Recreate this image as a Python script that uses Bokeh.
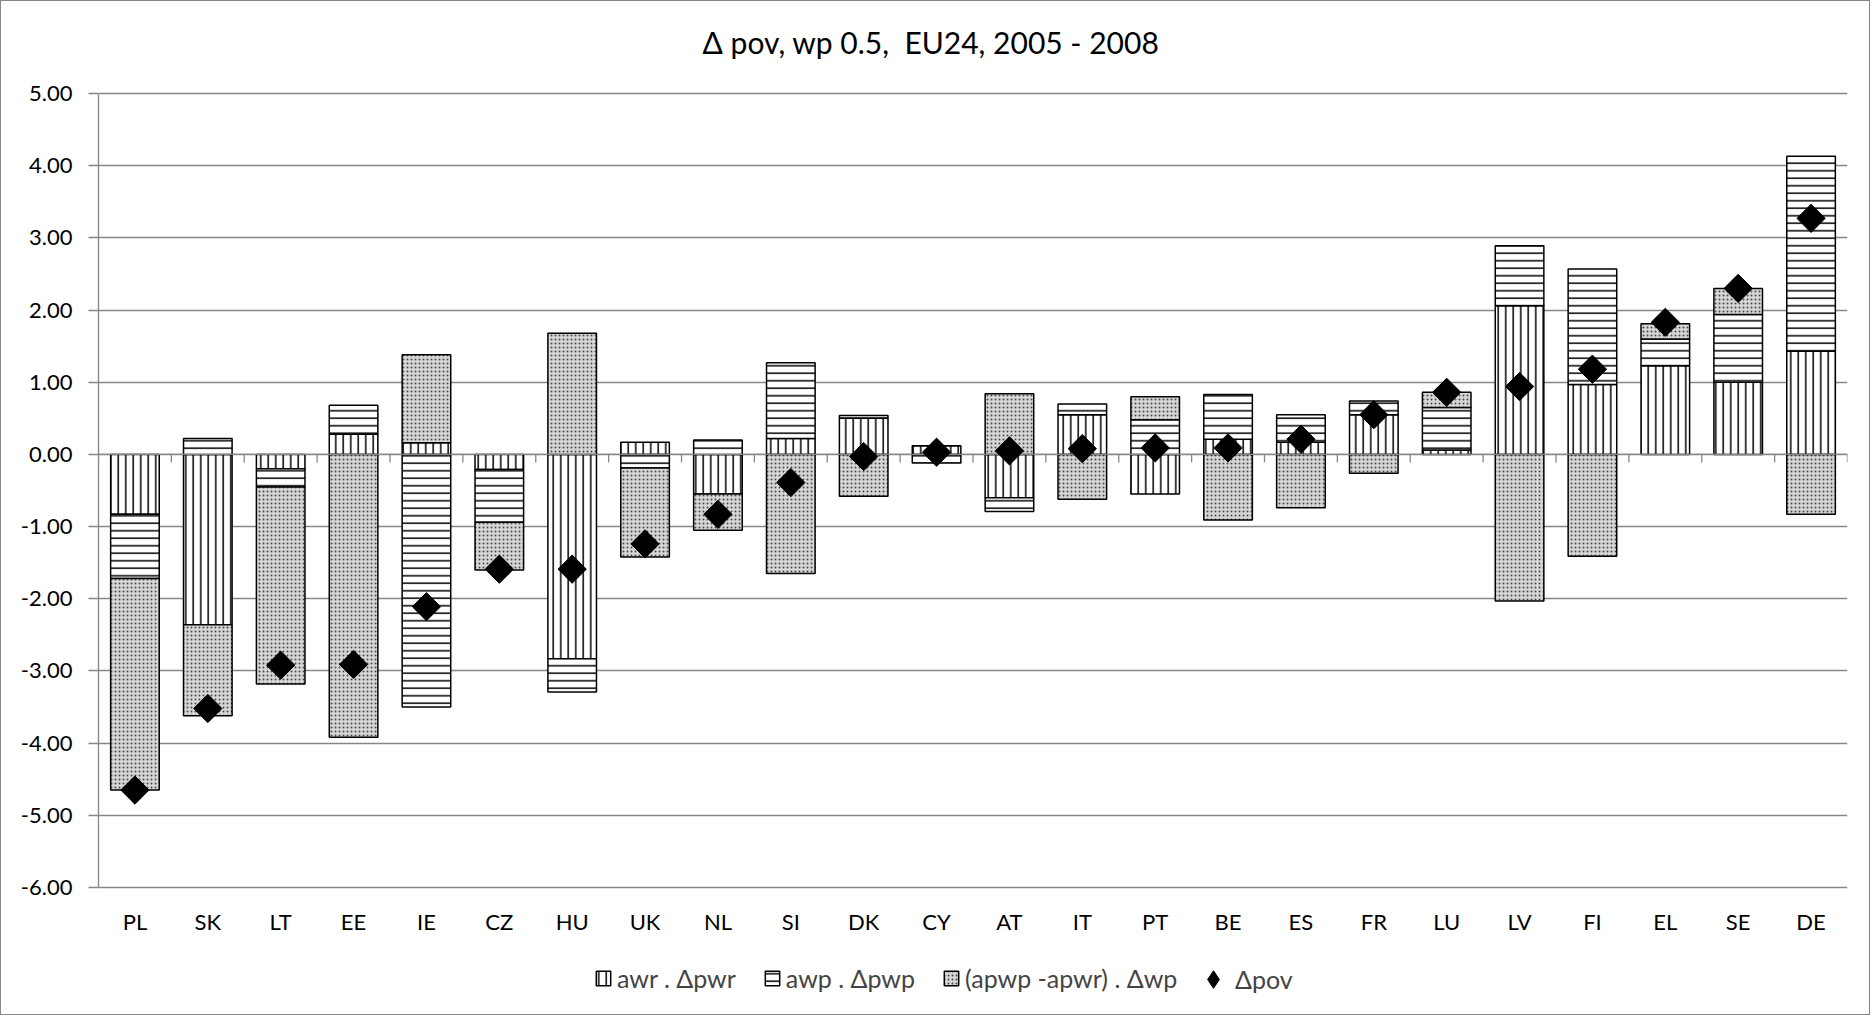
import math

from bokeh.core.properties import value
from bokeh.embed import file_html
from bokeh.models import ColumnDataSource, FixedTicker, Legend, LegendItem, NumeralTickFormatter
from bokeh.plotting import figure
from bokeh.resources import INLINE


COUNTRIES = ["PL", "SK", "LT", "EE", "IE", "CZ", "HU", "UK", "NL", "SI", "DK", "CY",
             "AT", "IT", "PT", "BE", "ES", "FR", "LU", "LV", "FI", "EL", "SE", "DE"]

# awr . Δpwr
AWR_DPWR = [-0.83, -2.36, -0.20, 0.28, 0.16, -0.21, -2.83, 0.17, -0.55, 0.22, 0.50, 0.12,
            -0.60, 0.55, -0.55, 0.21, 0.17, 0.55, 0.06, 2.06, 0.97, 1.23, 1.00, 1.43]
# awp . Δpwp
AWP_DPWP = [-0.89, 0.22, -0.25, 0.40, -3.50, -0.73, -0.46, -0.19, 0.20, 1.05, 0.04, -0.12,
            -0.19, 0.15, 0.48, 0.62, 0.38, 0.19, 0.59, 0.83, 1.60, 0.37, 0.94, 2.70]
# (apwp -apwr) . Δwp
APWP_APWR_DWP = [-2.93, -1.26, -2.73, -3.92, 1.22, -0.66, 1.68, -1.23, -0.50, -1.65, -0.58, 0.00,
                 0.84, -0.62, 0.32, -0.91, -0.74, -0.26, 0.21, -2.03, -1.41, 0.21, 0.36, -0.83]
# Δpov
DPOV = [-4.65, -3.52, -2.92, -2.91, -2.11, -1.59, -1.59, -1.24, -0.83, -0.39, -0.03, 0.03,
        0.05, 0.08, 0.09, 0.09, 0.21, 0.55, 0.86, 0.94, 1.18, 1.83, 2.30, 3.27]

SERIES_NAMES = ["awr . Δpwr", "awp . Δpwp", "(apwp -apwr) . Δwp", "Δpov"]
Y_TICKS = list(range(-6, 6))
TITLE = "Δ pov, wp 0.5,\u00a0 EU24, 2005 - 2008"

FONT = "Lato"
GREY = "#868686"

WIDTH, HEIGHT = 1870, 1015
# the value axis covers 794 px starting 92 px from the top; the frame fills
# the whole height so title, category labels and legend live inside it
AXIS_PX = 794
AXIS_TOP = 92
FRAME_H = 1001
PX_PER_UNIT = AXIS_PX / (Y_TICKS[-1] - Y_TICKS[0])
Y_HIGH = Y_TICKS[-1] + AXIS_TOP / PX_PER_UNIT
Y_LOW = Y_TICKS[-1] - (FRAME_H - AXIS_TOP) / PX_PER_UNIT


def stack(series_list):
    """Stack positive and negative values separately, like Excel does."""
    pos = [0.0] * len(COUNTRIES)
    neg = [0.0] * len(COUNTRIES)
    out = []
    for values in series_list:
        bottoms, tops = [], []
        for i, v in enumerate(values):
            if v >= 0:
                bottoms.append(pos[i])
                tops.append(pos[i] + v)
                pos[i] += v
            else:
                bottoms.append(neg[i])
                tops.append(neg[i] + v)
                neg[i] += v
        out.append((bottoms, tops))
    return out


centers = [i + 0.5 for i in range(len(COUNTRIES))]

p = figure(
    width=WIDTH,
    height=HEIGHT,
    x_range=(0, len(COUNTRIES)),
    y_range=(Y_LOW, Y_HIGH),
    output_backend="svg",
    toolbar_location=None,
    min_border_left=97,
    min_border_right=WIDTH - 97 - 1749,
    min_border_top=0,
    min_border_bottom=HEIGHT - FRAME_H,
    styles={"border": "1px solid #868686"},
)
p.outline_line_color = None
p.xgrid.grid_line_color = None
p.ygrid.grid_line_color = GREY
p.ygrid.grid_line_width = 1.3
p.ygrid.ticker = FixedTicker(ticks=Y_TICKS)
p.xaxis.visible = False

p.yaxis.ticker = FixedTicker(ticks=Y_TICKS)
p.yaxis.bounds = (Y_TICKS[0], Y_TICKS[-1])
p.yaxis.formatter = NumeralTickFormatter(format="0.00")
p.yaxis.axis_line_color = GREY
p.yaxis.axis_line_width = 1.3
p.yaxis.major_tick_line_color = GREY
p.yaxis.major_tick_line_width = 1.3
p.yaxis.major_tick_out = 10
p.yaxis.major_tick_in = 0
p.yaxis.minor_tick_line_color = None
p.yaxis.major_label_standoff = 16
p.yaxis.major_label_text_font = FONT
p.yaxis.major_label_text_font_size = "22px"
p.yaxis.major_label_text_color = "black"

# chart title, centred on the whole chart area
p.text(x=[len(COUNTRIES) / 2], y=[Y_TICKS[-1] + 52 / PX_PER_UNIT], text=[TITLE],
       x_offset=-42, text_align="center", text_baseline="middle",
       text_font=value(FONT), text_font_size="30px", text_color="black")

stacked = stack([AWR_DPWR, AWP_DPWP, APWP_APWR_DWP])
styles = [
    dict(fill_color="white", hatch_pattern="vertical_line", hatch_scale=7.5, hatch_weight=1.5, hatch_color="black"),
    dict(fill_color="white", hatch_pattern="horizontal_line", hatch_scale=7.5, hatch_weight=1.5, hatch_color="black"),
    dict(fill_color="#d6d6d6", hatch_pattern="dot", hatch_scale=4, hatch_weight=1, hatch_color="#4a4a4a"),
]

renderers = []
for (bottoms, tops), style in zip(stacked, styles):
    src = ColumnDataSource(data=dict(x=centers, bottom=bottoms, top=tops))
    r = p.vbar(x="x", bottom="bottom", top="top", width=2 / 3, source=src,
               line_color="black", line_width=1.5, **style)
    renderers.append(r)

# category axis line at zero, with tick marks between categories
p.segment(x0=[0], y0=[0], x1=[len(COUNTRIES)], y1=[0], line_color=GREY, line_width=1.3)
tick_len = 8 / PX_PER_UNIT
bounds = list(range(len(COUNTRIES) + 1))
p.segment(x0=bounds, y0=[0] * len(bounds), x1=bounds, y1=[-tick_len] * len(bounds),
          line_color=GREY, line_width=1.3)

# category labels sit below the lowest gridline
label_y = Y_TICKS[0] - 34 / PX_PER_UNIT
p.text(x=centers, y=[label_y] * len(centers), text=COUNTRIES,
       text_align="center", text_baseline="middle", text_font=value(FONT),
       text_font_size="22px", text_color="black")

p.scatter(centers, DPOV, marker="square", size=20, angle=math.pi / 4,
          fill_color="black", line_color="black")
# legend key only (hidden): the legend does not rotate markers, so use a diamond
pov_key = p.scatter(centers, DPOV, marker="diamond", fill_color="black",
                    line_color="black", visible=False)

common = dict(
    orientation="horizontal",
    padding=0,
    margin=0,
    label_text_font=FONT,
    label_text_font_size="25px",
    border_line_color=None,
    background_fill_alpha=0,
    inactive_fill_alpha=0,
)
bar_legend = Legend(
    items=[LegendItem(label=name, renderers=[r]) for name, r in zip(SERIES_NAMES[:3], renderers)],
    location=(496, 9),
    spacing=27,
    glyph_width=18,
    glyph_height=18,
    label_standoff=5,
    **common,
)
pov_legend = Legend(
    items=[LegendItem(label=SERIES_NAMES[3], renderers=[pov_key])],
    location=(1093, 1),
    glyph_width=44,
    glyph_height=44,
    label_standoff=0,
    **common,
)
p.add_layout(bar_legend, "center")
p.add_layout(pov_legend, "center")

open("out.html", "w").write(file_html(p, INLINE))
